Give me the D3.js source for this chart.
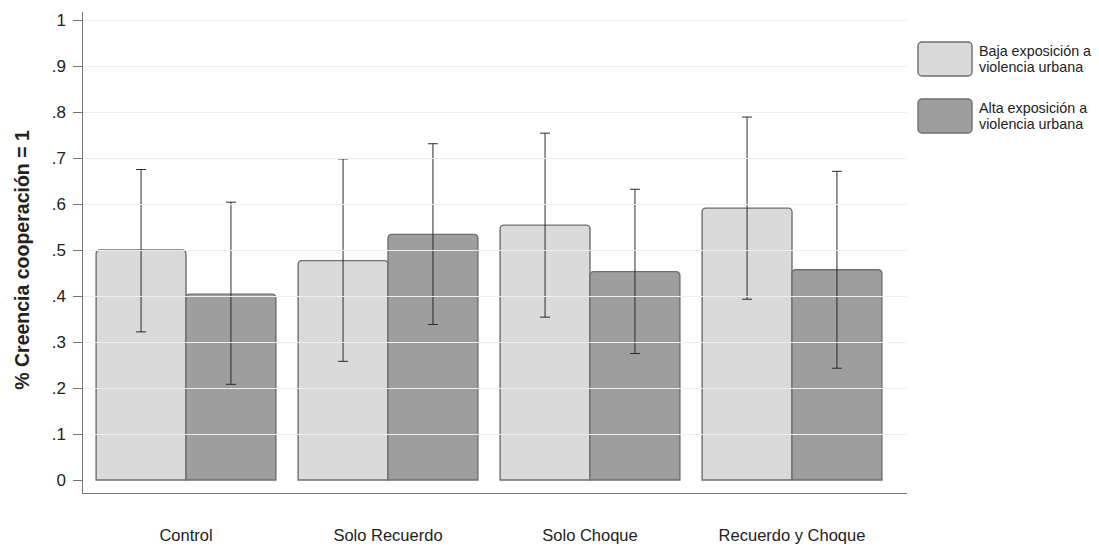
<!DOCTYPE html>
<html>
<head>
<meta charset="utf-8">
<script src="https://cdn.jsdelivr.net/npm/d3@7"></script>
<style>
  body { margin: 0; background: #fff; }
  svg { display: block; font-family: Arial, "Liberation Sans", sans-serif; }
</style>
</head>
<body>
<script>
/******************** data ********************/
const categories = ["Control", "Solo Recuerdo", "Solo Choque", "Recuerdo y Choque"];
const seriesNames = ["Baja exposición a violencia urbana", "Alta exposición a violencia urbana"];
const legendLines = [["Baja exposición a", "violencia urbana"], ["Alta exposición a", "violencia urbana"]];

const bajaMean = [0.500, 0.477, 0.554, 0.591];
const bajaLow  = [0.322, 0.258, 0.354, 0.393];
const bajaHigh = [0.675, 0.698, 0.754, 0.789];

const altaMean = [0.404, 0.534, 0.453, 0.457];
const altaLow  = [0.208, 0.338, 0.275, 0.243];
const altaHigh = [0.604, 0.731, 0.632, 0.671];

const yTicks = [0, 0.1, 0.2, 0.3, 0.4, 0.5, 0.6, 0.7, 0.8, 0.9, 1];

/******************** layout ********************/
const svgWidth = 1099;
const svgHeight = 546;
const colors = ["#dadada", "#9e9e9e"];

const svg = d3.select("body")
  .append("svg")
  .attr("width", svgWidth)
  .attr("height", svgHeight);

// build rows from the arrays
const rows = categories.map((c, i) => ({
  cat: c,
  vals: [
    { s: 0, mean: bajaMean[i], lo: bajaLow[i], hi: bajaHigh[i] },
    { s: 1, mean: altaMean[i], lo: altaLow[i], hi: altaHigh[i] }
  ]
}));

/******************** scales ********************/
const y = d3.scaleLinear().domain([0, 1]).range([480, 20]);

const x = d3.scaleBand()
  .domain(categories)
  .range([85, 893])
  .paddingInner(0.11)
  .paddingOuter(0.055);

const xInner = d3.scaleBand()
  .domain([0, 1])
  .range([0, x.bandwidth()]);

const axisLeftX = 82;
const axisBottomY = 493;
const plotRight = 907;

/******************** bars ********************/
function topRoundedBar(x0, y0, w, h, r) {
  return `M${x0},${y0 + h} L${x0},${y0 + r} Q${x0},${y0} ${x0 + r},${y0}
    L${x0 + w - r},${y0} Q${x0 + w},${y0} ${x0 + w},${y0 + r} L${x0 + w},${y0 + h} Z`;
}

const groups = svg.selectAll(".grp")
  .data(rows)
  .enter()
  .append("g")
  .attr("class", "grp")
  .attr("transform", (d) => `translate(${x(d.cat)},0)`);

groups.selectAll("path.bar")
  .data((d) => d.vals)
  .enter()
  .append("path")
  .attr("class", "bar")
  .attr("d", (d) => topRoundedBar(xInner(d.s), y(d.mean), xInner.bandwidth(), y(0) - y(d.mean), 4))
  .attr("fill", (d) => colors[d.s])
  .attr("stroke", "#6f6f6f")
  .attr("stroke-width", 1.4);

/******************** grid lines (drawn over bars) ********************/
svg.append("g")
  .selectAll("line")
  .data(yTicks.filter((t) => t > 0))
  .enter()
  .append("line")
  .attr("x1", axisLeftX + 1)
  .attr("x2", plotRight)
  .attr("y1", (d) => Math.round(y(d)) + 0.5)
  .attr("y2", (d) => Math.round(y(d)) + 0.5)
  .attr("stroke", "#eeeeee")
  .attr("stroke-width", 1);

/******************** error bars ********************/
const errs = groups.selectAll("g.err")
  .data((d) => d.vals)
  .enter()
  .append("g")
  .attr("class", "err")
  .attr("stroke", "#2a2a2a")
  .attr("stroke-width", 1);

errs.append("line")
  .attr("x1", (d) => xInner(d.s) + xInner.bandwidth() / 2)
  .attr("x2", (d) => xInner(d.s) + xInner.bandwidth() / 2)
  .attr("y1", (d) => y(d.lo))
  .attr("y2", (d) => y(d.hi));

["lo", "hi"].forEach((k) => {
  errs.append("line")
    .attr("x1", (d) => xInner(d.s) + xInner.bandwidth() / 2 - 5)
    .attr("x2", (d) => xInner(d.s) + xInner.bandwidth() / 2 + 5)
    .attr("y1", (d) => y(d[k]))
    .attr("y2", (d) => y(d[k]));
});

/******************** axes ********************/
const leftAxis = d3.axisLeft(y)
  .tickValues(yTicks)
  .tickSize(9)
  .tickPadding(7)
  .tickFormat((d) => (d === 0 ? "0" : d === 1 ? "1" : d3.format(".1f")(d).replace(/^0/, "")));

const yAxisG = svg.append("g")
  .attr("transform", `translate(${axisLeftX},0)`)
  .call(leftAxis);
yAxisG.select(".domain").remove();
yAxisG.selectAll(".tick line").attr("stroke", "#777");
yAxisG.selectAll(".tick text")
  .attr("fill", "#222")
  .attr("font-size", "17px")
  .attr("font-family", "Arial, 'Liberation Sans', sans-serif");

svg.append("line")
  .attr("x1", axisLeftX + 0.5).attr("x2", axisLeftX + 0.5)
  .attr("y1", 12).attr("y2", axisBottomY)
  .attr("stroke", "#777");

svg.append("line")
  .attr("x1", axisLeftX).attr("x2", plotRight)
  .attr("y1", axisBottomY + 0.5).attr("y2", axisBottomY + 0.5)
  .attr("stroke", "#777");

// category labels
svg.append("g")
  .selectAll("text")
  .data(categories)
  .enter()
  .append("text")
  .text((d) => d)
  .attr("x", (d) => x(d) + x.bandwidth() / 2)
  .attr("y", 541)
  .attr("text-anchor", "middle")
  .attr("font-size", "16.5px")
  .attr("fill", "#222");

// y title
svg.append("text")
  .text("% Creencia cooperación = 1")
  .attr("transform", `translate(29,260) rotate(-90)`)
  .attr("text-anchor", "middle")
  .attr("font-size", "19.5px")
  .attr("font-weight", "bold")
  .attr("fill", "#222");

/******************** legend ********************/
const legend = svg.append("g")
  .selectAll("g")
  .data(seriesNames)
  .enter()
  .append("g")
  .attr("transform", (d, i) => `translate(918,${42 + i * 57})`);

legend.append("rect")
  .attr("width", 54)
  .attr("height", 34)
  .attr("rx", 4)
  .attr("fill", (d, i) => colors[i])
  .attr("stroke", "#6f6f6f")
  .attr("stroke-width", 1.4);

legend.each(function (d, i) {
  d3.select(this)
    .selectAll("text")
    .data(legendLines[i])
    .enter()
    .append("text")
    .text((t) => t)
    .attr("x", 61)
    .attr("y", (t, j) => 14 + j * 16)
    .attr("font-size", "14.3px")
    .attr("fill", "#222");
});
</script>
</body>
</html>
